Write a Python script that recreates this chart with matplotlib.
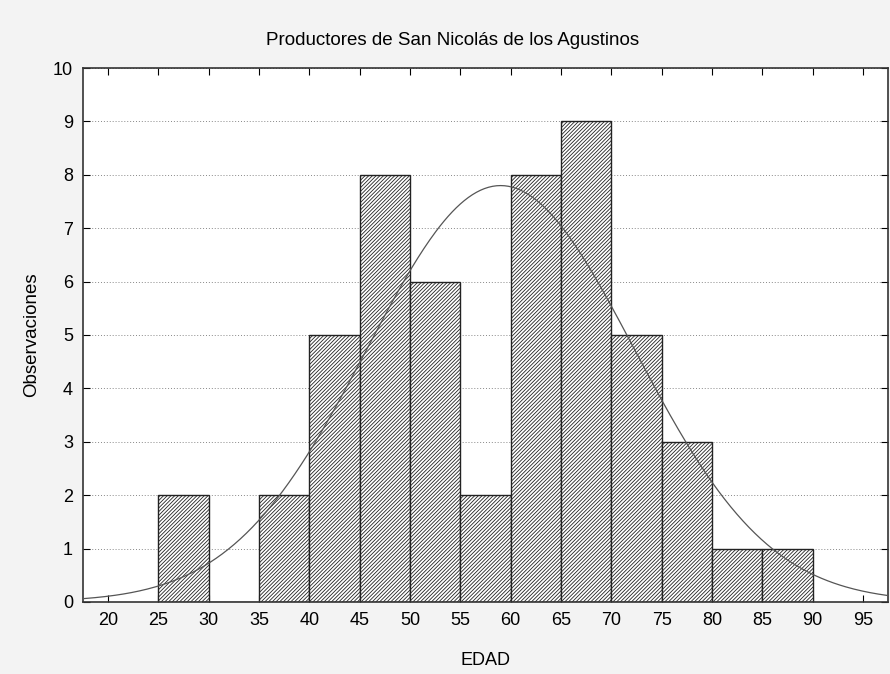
import numpy as np
import matplotlib.pyplot as plt
import matplotlib as mpl

plt.rcParams['font.family'] = ['Liberation Sans', 'DejaVu Sans']
mpl.rcParams['hatch.linewidth'] = 0.6

# histogram of ages (bin width 5)
bin_edges = [25, 30, 35, 40, 45, 50, 55, 60, 65, 70, 75, 80, 85, 90]
counts = [2, 0, 2, 5, 8, 6, 2, 8, 9, 5, 3, 1, 1]

# fitted normal curve parameters
mu = 59.0
sigma = 13.3
n_obs = sum(counts)
width = 5

xticks = list(range(20, 100, 5))
yticks = list(range(0, 11))

fig = plt.figure(figsize=(8.9, 6.74), dpi=100, facecolor='#f3f3f3')
ax = fig.add_axes([0.093, 0.107, 0.905, 0.792])

left = bin_edges[:-1]
ax.bar(left, counts, width=width, align='edge', color='white', edgecolor='#222222',
       hatch='/' * 9, linewidth=1.0, zorder=2)

xs = np.linspace(17.5, 97.5, 400)
ys = n_obs * width / (sigma * np.sqrt(2 * np.pi)) * np.exp(-0.5 * ((xs - mu) / sigma) ** 2)
ax.plot(xs, ys, color='#555555', linewidth=0.9, zorder=3)

ax.set_xlim(17.5, 97.5)
ax.set_ylim(0, 10)
ax.set_xticks(xticks)
ax.set_yticks(yticks)
ax.yaxis.grid(True, linestyle=(0, (1, 2)), color='#888888', linewidth=0.7, zorder=0)
ax.set_axisbelow(True)
ax.tick_params(direction='in', top=True, right=True, labelsize=13, length=5, pad=7)
for s in ax.spines.values():
    s.set_linewidth(1.2)
    s.set_color('#333333')

# title sits centred on the figure, not on the axes
fig.text(0.509, 0.94, 'Productores de San Nicolás de los Agustinos', fontsize=13.5,
         ha='center', va='center')
ax.set_xlabel('EDAD', fontsize=13, labelpad=17)
ax.set_ylabel('Observaciones', fontsize=13.5, labelpad=9)

fig.savefig('out.png', dpi=100, facecolor=fig.get_facecolor())
